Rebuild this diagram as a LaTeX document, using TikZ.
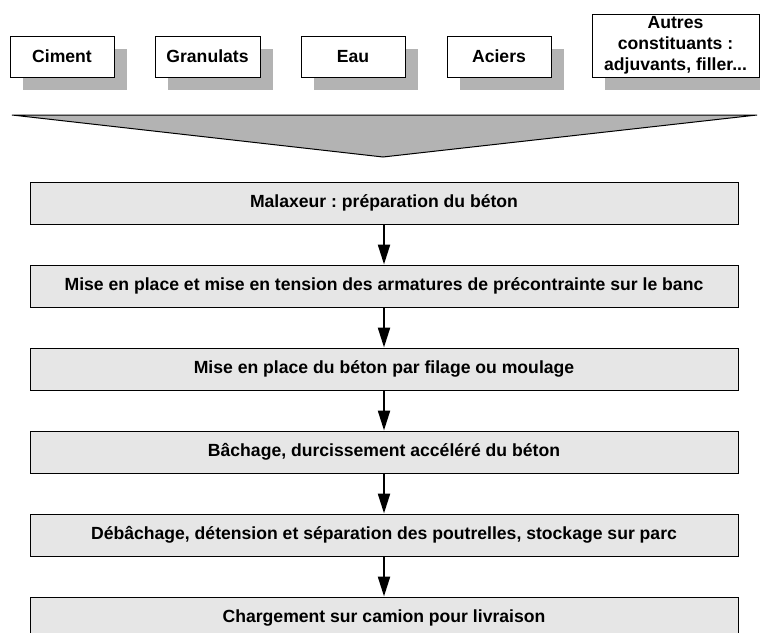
\documentclass[tikz,border=0pt]{standalone}
\usepackage{fontspec}
\setmainfont{Liberation Sans}
\usepackage{tikz}
\usetikzlibrary{arrows.meta,shadows}
\definecolor{boxgray}{HTML}{E6E6E6}
\definecolor{shadegray}{HTML}{B3B3B3}
\frenchspacing

\begin{document}
\begin{tikzpicture}[x=1pt,y=-1pt,
  every node/.style={font=\fontsize{17.6}{21}\selectfont\bfseries},
  comp/.style={draw,line width=1pt,fill=white,minimum height=41pt,align=center,
    inner sep=0pt,drop shadow={shadow xshift=13pt,shadow yshift=-13pt,fill=shadegray,opacity=1}},
  etape/.style={draw,line width=1pt,fill=boxgray,minimum width=708pt,minimum height=42pt,inner sep=0pt},
  flow/.style={line width=2.2pt,-{Triangle[length=20pt,width=12pt]}}]
\useasboundingbox (0,0) rectangle (760,632);
\clip (0,0) rectangle (760,632);
% constituants
\node (c1) [comp,minimum width=104pt] at (62,56.5) {Ciment} ;
\node (c2) [comp,minimum width=105pt] at (207.5,56.5) {Granulats} ;
\node (c3) [comp,minimum width=104pt] at (353,56.5) {Eau} ;
\node (c4) [comp,minimum width=104pt] at (499,56.5) {Aciers} ;
\node (c5) [comp,minimum width=167pt,minimum height=63pt] at (675.5,45.5) {Autres\\constituants :\\adjuvants, filler...} ;
% entonnoir
\coordinate (tl) at (12,115) ;
\coordinate (tr) at (757,115) ;
\coordinate (tb) at (383,157) ;
\draw[line width=1pt,fill=shadegray] (tl) -- (tr) -- (tb) -- cycle ;
% etapes
\node (e1) [etape] at (384,203) {Malaxeur : préparation du béton} ;
\node (e2) [etape] at (384,286) {Mise en place et mise en tension des armatures de précontrainte sur le banc} ;
\node (e3) [etape] at (384,369) {Mise en place du béton par filage ou moulage} ;
\node (e4) [etape] at (384,452) {Bâchage, durcissement accéléré du béton} ;
\node (e5) [etape] at (384,535) {Débâchage, détension et séparation des poutrelles, stockage sur parc} ;
\node (e6) [etape] at (384,618) {Chargement sur camion pour livraison} ;
\draw[flow] (e1) to (e2) ;
\draw[flow] (e2) to (e3) ;
\draw[flow] (e3) to (e4) ;
\draw[flow] (e4) to (e5) ;
\draw[flow] (e5) to (e6) ;
\end{tikzpicture}
\end{document}
